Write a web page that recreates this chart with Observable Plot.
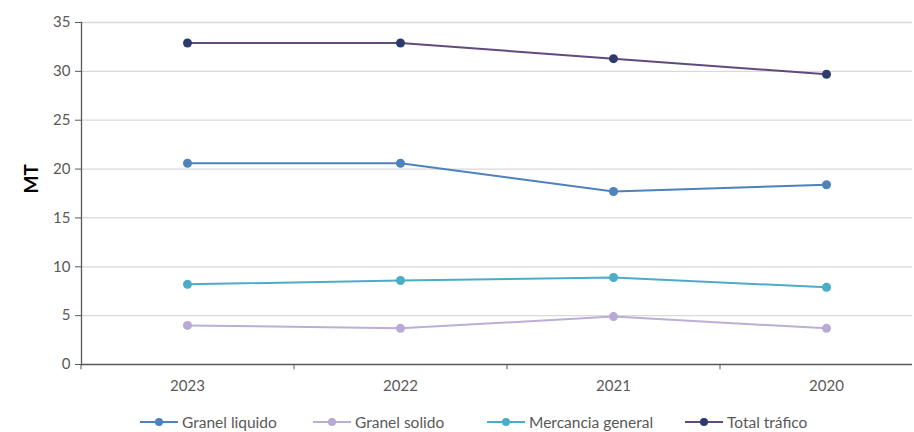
<!DOCTYPE html>
<html>
<head>
<meta charset="utf-8">
<script src="https://cdn.jsdelivr.net/npm/d3@7"></script>
<script src="https://cdn.jsdelivr.net/npm/@observablehq/plot@0.6"></script>
<style>
  html, body { margin: 0; padding: 0; background: #fff; }
  #wrap { position: relative; width: 914px; height: 432px; overflow: hidden; font-family: Lato, "Open Sans", sans-serif; }
  #legend { position: absolute; left: 0; top: 405px; width: 914px; height: 27px; }
  .item { position: absolute; top: 8px; display: flex; align-items: center; font-size: 15.5px; color: #595959; white-space: nowrap; line-height: 18px; }
  .item svg { margin-right: 4px; }
</style>
</head>
<body>
<div id="wrap"><div id="chart"></div><div id="legend"></div></div>
<script>
const years = ["2023", "2022", "2021", "2020"];
const seriesNames = ["Granel liquido", "Granel solido", "Mercancia general", "Total tráfico"];
const granelLiquido = [20.6, 20.6, 17.7, 18.4];
const granelSolido = [4.0, 3.7, 4.9, 3.7];
const mercanciaGeneral = [8.2, 8.6, 8.9, 7.9];
const totalTrafico = [32.9, 32.9, 31.3, 29.7];
const yTicks = [0, 5, 10, 15, 20, 25, 30, 35];
const lineColors = ["#4f81bd", "#bcaed6", "#4bacc6", "#604a7b"];
const dotColors = ["#4f81bd", "#b9a9d6", "#4bacc6", "#2c3b6b"];

const seriesValues = [granelLiquido, granelSolido, mercanciaGeneral, totalTrafico];
const data = [];
seriesNames.forEach((s, i) => {
  years.forEach((y, j) => {
    data.push({series: s, year: y, value: seriesValues[i][j], line: lineColors[i], dot: dotColors[i]});
  });
});

const xRange = [80, 932];
const step = (xRange[1] - xRange[0]) / years.length;

const plot = Plot.plot({
  width: 914,
  height: 405,
  marginLeft: 81,
  marginRight: 2,
  marginTop: 22,
  marginBottom: 41,
  style: {fontFamily: "Lato, 'Open Sans', sans-serif", fontSize: "15px", color: "#595959", background: "#fff"},
  x: {type: "point", domain: years, range: xRange, padding: 0.5},
  y: {domain: [0, 35], range: [364, 22]},
  color: {type: "identity"},
  marks: [
    Plot.ruleY(yTicks.filter(d => d > 0), {stroke: "#d9d9d9", strokeWidth: 1.3}),
    Plot.axisY({ticks: yTicks, tickSize: 6, tickPadding: 5, tickFormat: d => d, label: null, fill: "#595959", stroke: "#595959", fontSize: 15}),
    Plot.axisX({tickSize: 0, tickPadding: 16, label: null, fill: "#595959", fontSize: 15}),
    Plot.ruleX(years, {x: d => d, dx: -step / 2, y1: 0, y2: -0.55, stroke: "#595959", strokeWidth: 1}),
    Plot.frame({anchor: "left", stroke: "#595959", strokeWidth: 1.3}),
    Plot.ruleY([0], {stroke: "#595959", strokeWidth: 1.5}),
    Plot.line(data, {x: "year", y: "value", z: "series", stroke: "line", strokeWidth: 2}),
    Plot.dot(data, {x: "year", y: "value", fill: "dot", r: 4.5, stroke: "none"}),
    Plot.text(["MT"], {frameAnchor: "left", dx: -50, rotate: -90, text: d => d, fontSize: 19, fontWeight: "bold", fill: "#000"})
  ]
});
document.getElementById("chart").appendChild(plot);

const legendX = [140, 313, 487, 685];
const legend = document.getElementById("legend");
seriesNames.forEach((s, i) => {
  const el = document.createElement("div");
  el.className = "item";
  el.style.left = legendX[i] + "px";
  el.innerHTML = `<svg width="38" height="10"><line x1="0" x2="38" y1="5" y2="5" stroke="${lineColors[i]}" stroke-width="2"/><circle cx="19" cy="5" r="4" fill="${dotColors[i]}"/></svg><span>${s}</span>`;
  legend.appendChild(el);
});
</script>
</body>
</html>
